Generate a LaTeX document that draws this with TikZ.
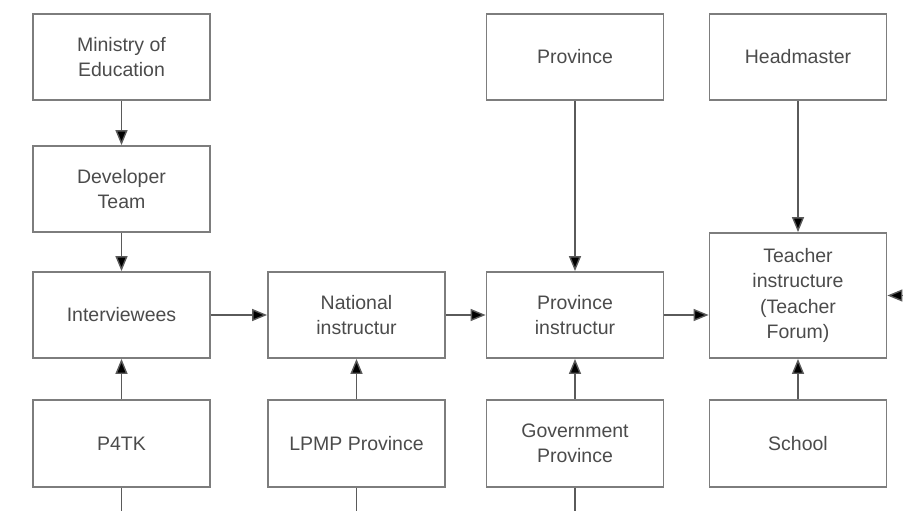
\documentclass[tikz,border=0pt]{standalone}
\usepackage{fontspec}
\setmainfont{Liberation Sans}
\usetikzlibrary{arrows.meta}
\definecolor{boxline}{RGB}{125,125,125}
\definecolor{txt}{RGB}{75,75,75}
\definecolor{conn}{RGB}{90,90,90}
\begin{document}
\begin{tikzpicture}[x=1pt,y=-1pt,
  box/.style={draw=boxline,line width=1.8pt,minimum width=177pt,minimum height=86pt,
    inner sep=0pt,align=center,text=txt,font=\fontsize{19.5}{25.5}\selectfont},
  conarrow/.style={draw=conn,line width=1.4pt,-{Triangle[length=15pt,width=12pt,fill=black]}},
  conline/.style={draw=conn,line width=1.4pt}]
\useasboundingbox (0,0) rectangle (903,511);
% column 1
\node[box] (ministry) at (121.5,57) {Ministry of\\Education};
\node[box] (developer) at (121.5,189) {Developer\\Team};
\node[box] (interviewees) at (121.5,315) {Interviewees};
\node[box,minimum height=87pt] (p4tk) at (121.5,443.5) {P4TK};
% column 2
\node[box] (national) at (356.5,315) {National\\instructur};
\node[box,minimum height=87pt] (lpmp) at (356.5,443.5) {LPMP Province};
% column 3
\node[box] (province) at (575,57) {Province};
\node[box] (provinstr) at (575,315) {Province\\instructur};
\node[box,minimum height=87pt] (gov) at (575,443.5) {Government\\Province};
% column 4
\node[box] (headmaster) at (798,57) {Headmaster};
\node[box,minimum height=125pt] (teacher) at (798,295.5) {Teacher\\instructure\\(Teacher\\Forum)};
\node[box,minimum height=87pt] (school) at (798,443.5) {School};
% free ends
\coordinate (rin) at (905,295.5);
\coordinate (b1) at (121.5,512);
\coordinate (b2) at (356.5,512);
\coordinate (b3) at (575,512);
% connectors
\draw[conarrow] (ministry) -- (developer);
\draw[conarrow] (developer) -- (interviewees);
\draw[conarrow] (p4tk) -- (interviewees);
\draw[conarrow] (interviewees) -- (national);
\draw[conarrow] (lpmp) -- (national);
\draw[conarrow] (national) -- (provinstr);
\draw[conarrow] (province) -- (provinstr);
\draw[conarrow] (gov) -- (provinstr);
\draw[conarrow] (provinstr.east) -- (provinstr.east -| teacher.west);
\draw[conarrow] (headmaster) -- (teacher);
\draw[conarrow] (school) -- (teacher);
\draw[conarrow] (rin) -- (teacher.east);
\draw[conline] (p4tk) -- (b1);
\draw[conline] (lpmp) -- (b2);
\draw[conline] (gov) -- (b3);
\end{tikzpicture}
\end{document}
